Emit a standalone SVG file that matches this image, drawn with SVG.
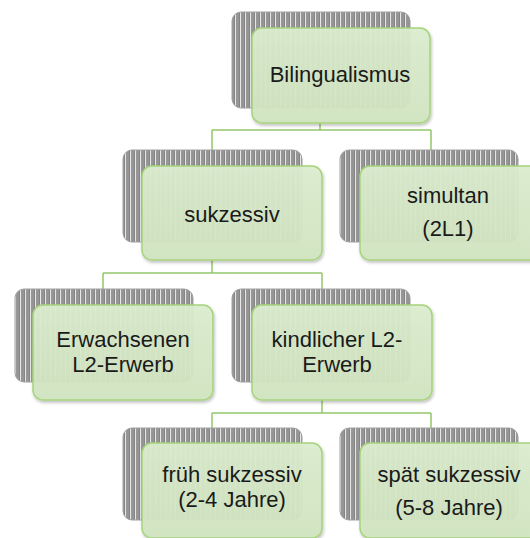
<svg xmlns="http://www.w3.org/2000/svg" width="530" height="538" viewBox="0 0 530 538">
<style>
.back{fill:url(#stripes);stroke:#a0a0a0;stroke-width:1}
.front{fill:url(#greenfill);stroke:#a6d47c;stroke-width:1.5;fill-opacity:0.94}
.lbl{font-family:"Liberation Sans",Arial,sans-serif;font-size:22px;fill:#1a1a1a;text-anchor:middle}
.conn{fill:none;stroke:#93c76a;stroke-width:1.5}
</style>
<defs>
<pattern id="stripes" patternUnits="userSpaceOnUse" width="5" height="10">
<rect width="5" height="10" fill="#858585"/>
<rect x="0" width="1.2" height="10" fill="#e6e6e6"/>
<rect x="2.5" width="1" height="10" fill="#a5a5a5"/>
</pattern>
<linearGradient id="greenfill" x1="0" y1="0" x2="0" y2="1">
<stop offset="0" stop-color="#dcedcf"/>
<stop offset="1" stop-color="#d1e5c0"/>
</linearGradient>
<filter id="sh" x="-10%" y="-10%" width="130%" height="130%">
<feDropShadow dx="1" dy="2" stdDeviation="1.5" flood-color="#000" flood-opacity="0.25"/>
</filter>
</defs>
<g id="connectors">
<path class="conn" d="M320,123 V130 M212,130 H431 M212,130 V150 M431,130 V150"/>
<path class="conn" d="M212,260 V273 M103,273 H322 M103,273 V289 M322,273 V289"/>
<path class="conn" d="M322,400 V413 M212,413 H431 M212,413 V428 M431,413 V428"/>
</g>
<g id="n-bilingualismus">
<rect class="back" x="232" y="12" width="178" height="96" rx="9"/>
<rect class="front" x="252" y="28" width="178" height="95" rx="10" filter="url(#sh)"/>
<text class="lbl" x="340" y="82">Bilingualismus</text>
</g>
<g id="n-sukzessiv">
<rect class="back" x="123" y="150" width="179" height="92" rx="9"/>
<rect class="front" x="142" y="166" width="180" height="94" rx="10" filter="url(#sh)"/>
<text class="lbl" x="232" y="222">sukzessiv</text>
</g>
<g id="n-simultan">
<rect class="back" x="340" y="150" width="178" height="92" rx="9"/>
<rect class="front" x="360" y="166" width="180" height="94" rx="10" filter="url(#sh)"/>
<text class="lbl" x="448" y="203">simultan</text>
<text class="lbl" x="448" y="236">(2L1)</text>
</g>
<g id="n-erwachsenen">
<rect class="back" x="15" y="289" width="178" height="93" rx="9"/>
<rect class="front" x="33" y="305" width="180" height="95" rx="10" filter="url(#sh)"/>
<text class="lbl" x="123" y="347">Erwachsenen</text>
<text class="lbl" x="123" y="372">L2-Erwerb</text>
</g>
<g id="n-kindlicher">
<rect class="back" x="232" y="289" width="178" height="93" rx="9"/>
<rect class="front" x="252" y="305" width="180" height="95" rx="10" filter="url(#sh)"/>
<text class="lbl" x="337" y="347">kindlicher L2-</text>
<text class="lbl" x="337" y="372">Erwerb</text>
</g>
<g id="n-frueh">
<rect class="back" x="123" y="428" width="179" height="92" rx="9"/>
<rect class="front" x="142" y="443" width="180" height="95" rx="10" filter="url(#sh)"/>
<text class="lbl" x="232" y="482">früh sukzessiv</text>
<text class="lbl" x="232" y="507">(2-4 Jahre)</text>
</g>
<g id="n-spaet">
<rect class="back" x="340" y="428" width="178" height="92" rx="9"/>
<rect class="front" x="360" y="443" width="180" height="95" rx="10" filter="url(#sh)"/>
<text class="lbl" x="449" y="482">spät sukzessiv</text>
<text class="lbl" x="449" y="515">(5-8 Jahre)</text>
</g>
</svg>
